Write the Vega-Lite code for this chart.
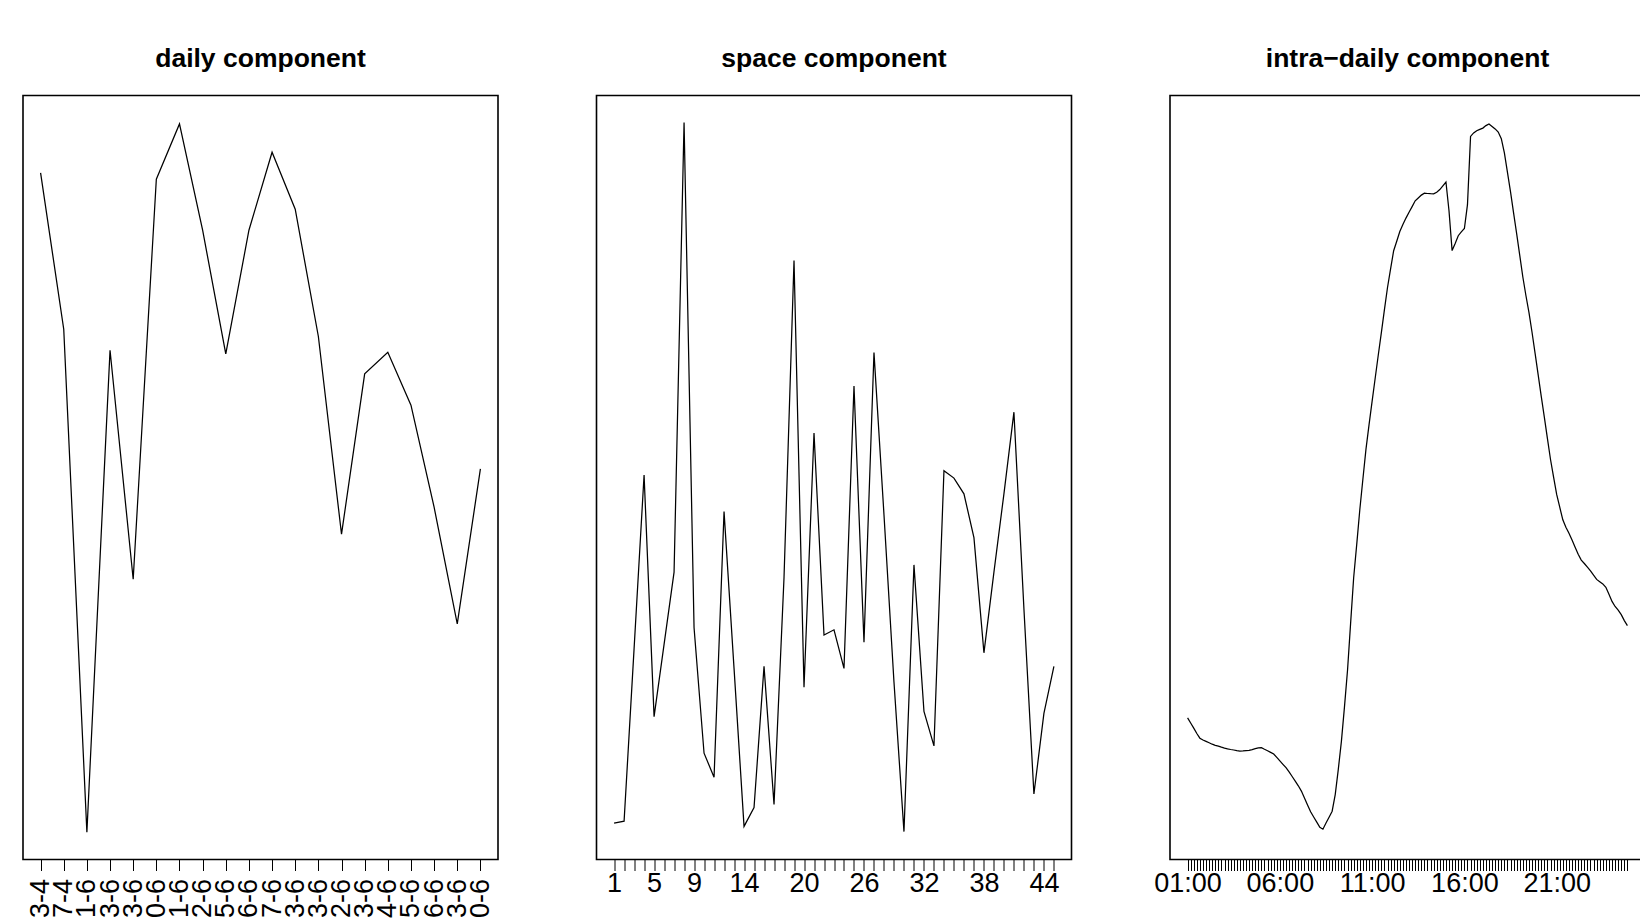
{
  "$schema": "https://vega.github.io/schema/vega-lite/v6.json",
  "background": "white",
  "padding": {"left": 22, "top": 44.5, "right": 0, "bottom": 0},
  "bounds": "flush",
  "spacing": 98.5,
  "config": {
    "view": {"stroke": "black", "strokeWidth": 1.6},
    "font": "Liberation Sans",
    "title": {"fontSize": 26.5, "fontWeight": "bold", "color": "black", "offset": 23, "font": "Liberation Sans"},
    "axis": {"domain": false, "grid": false, "tickColor": "black", "tickSize": 11, "tickWidth": 1, "labelColor": "black", "labelFont": "Liberation Sans", "labelFontSize": 27, "labelPadding": 0, "labelOverlap": false, "labelFlush": false},
    "line": {"color": "black", "strokeWidth": 1.25}
  },
  "datasets": {
    "daily": [
      {"i": 1, "day": "23-4", "v": 686.6},
      {"i": 2, "day": "27-4", "v": 530.3},
      {"i": 3, "day": "01-6", "v": 27.3},
      {"i": 4, "day": "03-6", "v": 509.3},
      {"i": 5, "day": "13-6", "v": 280.3},
      {"i": 6, "day": "20-6", "v": 680.3},
      {"i": 7, "day": "21-6", "v": 735.6},
      {"i": 8, "day": "22-6", "v": 629.3},
      {"i": 9, "day": "25-6", "v": 505.6},
      {"i": 10, "day": "26-6", "v": 629.3},
      {"i": 11, "day": "27-6", "v": 707.3},
      {"i": 12, "day": "03-6", "v": 650.3},
      {"i": 13, "day": "13-6", "v": 523.0},
      {"i": 14, "day": "22-6", "v": 325.3},
      {"i": 15, "day": "23-6", "v": 485.6},
      {"i": 16, "day": "24-6", "v": 507.3},
      {"i": 17, "day": "25-6", "v": 454.3},
      {"i": 18, "day": "26-6", "v": 352.3},
      {"i": 19, "day": "13-6", "v": 235.6},
      {"i": 20, "day": "20-6", "v": 390.6}
    ],
    "space": [
      {"i": 1, "v": 36.3}, {"i": 2, "v": 38.3}, {"i": 3, "v": 210.9}, {"i": 4, "v": 384.5}, {"i": 5, "v": 142.9},
      {"i": 6, "v": 215.1}, {"i": 7, "v": 287.3}, {"i": 8, "v": 737.0}, {"i": 9, "v": 231.8}, {"i": 10, "v": 106.3},
      {"i": 11, "v": 82.3}, {"i": 12, "v": 347.9}, {"i": 13, "v": 191.1}, {"i": 14, "v": 33.1}, {"i": 15, "v": 51.9},
      {"i": 16, "v": 193.1}, {"i": 17, "v": 55.1}, {"i": 18, "v": 282.0}, {"i": 19, "v": 599.0}, {"i": 20, "v": 172.2},
      {"i": 21, "v": 426.4}, {"i": 22, "v": 224.5}, {"i": 23, "v": 229.7}, {"i": 24, "v": 191.1}, {"i": 25, "v": 473.4},
      {"i": 26, "v": 217.2}, {"i": 27, "v": 506.9}, {"i": 28, "v": 344.8}, {"i": 29, "v": 177.5}, {"i": 30, "v": 27.9},
      {"i": 31, "v": 294.6}, {"i": 32, "v": 148.2}, {"i": 33, "v": 113.6}, {"i": 34, "v": 388.7}, {"i": 35, "v": 381.4},
      {"i": 36, "v": 365.7}, {"i": 37, "v": 321.8}, {"i": 38, "v": 206.7}, {"i": 39, "v": 287.3}, {"i": 40, "v": 365.7},
      {"i": 41, "v": 447.3}, {"i": 42, "v": 250.7}, {"i": 43, "v": 65.5}, {"i": 44, "v": 146.1}, {"i": 45, "v": 193.1}
    ],
    "intra": [
      {"i": 1, "t": "01:00", "v": 141.6}, {"i": 2, "t": "01:10", "v": 136.5}, {"i": 3, "t": "01:20", "v": 131.4}, {"i": 4, "t": "01:30", "v": 126.0}, {"i": 5, "t": "01:40", "v": 121.3}, {"i": 6, "t": "01:50", "v": 119.5},
      {"i": 7, "t": "02:00", "v": 118.1}, {"i": 8, "t": "02:10", "v": 116.7}, {"i": 9, "t": "02:20", "v": 115.3}, {"i": 10, "t": "02:30", "v": 114.2}, {"i": 11, "t": "02:40", "v": 113.3}, {"i": 12, "t": "02:50", "v": 112.3},
      {"i": 13, "t": "03:00", "v": 111.4}, {"i": 14, "t": "03:10", "v": 110.6}, {"i": 15, "t": "03:20", "v": 110.0}, {"i": 16, "t": "03:30", "v": 109.5}, {"i": 17, "t": "03:40", "v": 108.9}, {"i": 18, "t": "03:50", "v": 108.4},
      {"i": 19, "t": "04:00", "v": 108.6}, {"i": 20, "t": "04:10", "v": 108.9}, {"i": 21, "t": "04:20", "v": 109.2}, {"i": 22, "t": "04:30", "v": 109.9}, {"i": 23, "t": "04:40", "v": 110.8}, {"i": 24, "t": "04:50", "v": 111.7},
      {"i": 25, "t": "05:00", "v": 111.8}, {"i": 26, "t": "05:10", "v": 110.2}, {"i": 27, "t": "05:20", "v": 108.7}, {"i": 28, "t": "05:30", "v": 107.1}, {"i": 29, "t": "05:40", "v": 105.5}, {"i": 30, "t": "05:50", "v": 102.1},
      {"i": 31, "t": "06:00", "v": 98.7}, {"i": 32, "t": "06:10", "v": 95.2}, {"i": 33, "t": "06:20", "v": 91.8}, {"i": 34, "t": "06:30", "v": 87.7}, {"i": 35, "t": "06:40", "v": 83.0}, {"i": 36, "t": "06:50", "v": 78.4},
      {"i": 37, "t": "07:00", "v": 73.7}, {"i": 38, "t": "07:10", "v": 68.4}, {"i": 39, "t": "07:20", "v": 61.5}, {"i": 40, "t": "07:30", "v": 54.5}, {"i": 41, "t": "07:40", "v": 47.8}, {"i": 42, "t": "07:50", "v": 42.5},
      {"i": 43, "t": "08:00", "v": 37.4}, {"i": 44, "t": "08:10", "v": 32.2}, {"i": 45, "t": "08:20", "v": 30.3}, {"i": 46, "t": "08:30", "v": 36.5}, {"i": 47, "t": "08:40", "v": 42.3}, {"i": 48, "t": "08:50", "v": 48.3},
      {"i": 49, "t": "09:00", "v": 64.9}, {"i": 50, "t": "09:10", "v": 90.2}, {"i": 51, "t": "09:20", "v": 117.9}, {"i": 52, "t": "09:30", "v": 152.4}, {"i": 53, "t": "09:40", "v": 189.3}, {"i": 54, "t": "09:50", "v": 236.1},
      {"i": 55, "t": "10:00", "v": 282.0}, {"i": 56, "t": "10:10", "v": 315.4}, {"i": 57, "t": "10:20", "v": 350.0}, {"i": 58, "t": "10:30", "v": 380.5}, {"i": 59, "t": "10:40", "v": 410.4}, {"i": 60, "t": "10:50", "v": 434.9},
      {"i": 61, "t": "11:00", "v": 458.3}, {"i": 62, "t": "11:10", "v": 481.5}, {"i": 63, "t": "11:20", "v": 504.5}, {"i": 64, "t": "11:30", "v": 526.8}, {"i": 65, "t": "11:40", "v": 549.8}, {"i": 66, "t": "11:50", "v": 572.0},
      {"i": 67, "t": "12:00", "v": 590.7}, {"i": 68, "t": "12:10", "v": 608.8}, {"i": 69, "t": "12:20", "v": 618.3}, {"i": 70, "t": "12:30", "v": 628.0}, {"i": 71, "t": "12:40", "v": 634.9}, {"i": 72, "t": "12:50", "v": 641.4},
      {"i": 73, "t": "13:00", "v": 647.2}, {"i": 74, "t": "13:10", "v": 652.9}, {"i": 75, "t": "13:20", "v": 658.7}, {"i": 76, "t": "13:30", "v": 661.5}, {"i": 77, "t": "13:40", "v": 664.4}, {"i": 78, "t": "13:50", "v": 666.3},
      {"i": 79, "t": "14:00", "v": 666.0}, {"i": 80, "t": "14:10", "v": 665.8}, {"i": 81, "t": "14:20", "v": 665.7}, {"i": 82, "t": "14:30", "v": 667.3}, {"i": 83, "t": "14:40", "v": 669.9}, {"i": 84, "t": "14:50", "v": 673.7},
      {"i": 85, "t": "15:00", "v": 677.5}, {"i": 86, "t": "15:10", "v": 648.5}, {"i": 87, "t": "15:20", "v": 608.9}, {"i": 88, "t": "15:30", "v": 616.1}, {"i": 89, "t": "15:40", "v": 623.8}, {"i": 90, "t": "15:50", "v": 627.6},
      {"i": 91, "t": "16:00", "v": 631.0}, {"i": 92, "t": "16:10", "v": 654.8}, {"i": 93, "t": "16:20", "v": 723.1}, {"i": 94, "t": "16:30", "v": 726.6}, {"i": 95, "t": "16:40", "v": 728.8}, {"i": 96, "t": "16:50", "v": 730.1},
      {"i": 97, "t": "17:00", "v": 731.4}, {"i": 98, "t": "17:10", "v": 733.9}, {"i": 99, "t": "17:20", "v": 735.6}, {"i": 100, "t": "17:30", "v": 733.1}, {"i": 101, "t": "17:40", "v": 730.6}, {"i": 102, "t": "17:50", "v": 727.5},
      {"i": 103, "t": "18:00", "v": 720.8}, {"i": 104, "t": "18:10", "v": 706.7}, {"i": 105, "t": "18:20", "v": 687.2}, {"i": 106, "t": "18:30", "v": 667.6}, {"i": 107, "t": "18:40", "v": 646.3}, {"i": 108, "t": "18:50", "v": 625.7},
      {"i": 109, "t": "19:00", "v": 604.1}, {"i": 110, "t": "19:10", "v": 582.5}, {"i": 111, "t": "19:20", "v": 564.0}, {"i": 112, "t": "19:30", "v": 546.9}, {"i": 113, "t": "19:40", "v": 527.0}, {"i": 114, "t": "19:50", "v": 505.8},
      {"i": 115, "t": "20:00", "v": 484.4}, {"i": 116, "t": "20:10", "v": 462.9}, {"i": 117, "t": "20:20", "v": 442.1}, {"i": 118, "t": "20:30", "v": 420.8}, {"i": 119, "t": "20:40", "v": 400.0}, {"i": 120, "t": "20:50", "v": 382.3},
      {"i": 121, "t": "21:00", "v": 365.1}, {"i": 122, "t": "21:10", "v": 352.3}, {"i": 123, "t": "21:20", "v": 339.7}, {"i": 124, "t": "21:30", "v": 332.3}, {"i": 125, "t": "21:40", "v": 326.2}, {"i": 126, "t": "21:50", "v": 319.4},
      {"i": 127, "t": "22:00", "v": 312.3}, {"i": 128, "t": "22:10", "v": 305.2}, {"i": 129, "t": "22:20", "v": 299.4}, {"i": 130, "t": "22:30", "v": 296.0}, {"i": 131, "t": "22:40", "v": 292.4}, {"i": 132, "t": "22:50", "v": 288.7},
      {"i": 133, "t": "23:00", "v": 284.3}, {"i": 134, "t": "23:10", "v": 280.1}, {"i": 135, "t": "23:20", "v": 277.8}, {"i": 136, "t": "23:30", "v": 275.6}, {"i": 137, "t": "23:40", "v": 272.2}, {"i": 138, "t": "23:50", "v": 265.3},
      {"i": 139, "t": "00:00", "v": 258.1}, {"i": 140, "t": "00:10", "v": 253.0}, {"i": 141, "t": "00:20", "v": 249.4}, {"i": 142, "t": "00:30", "v": 244.9}, {"i": 143, "t": "00:40", "v": 238.9}, {"i": 144, "t": "00:50", "v": 233.9}
    ]
  },
  "hconcat": [
    {
      "title": "daily component",
      "width": 475,
      "height": 764,
      "data": {"name": "daily"},
      "mark": {"type": "line"},
      "encoding": {
        "x": {"field": "i", "type": "quantitative", "title": null,
          "scale": {"domain": [0.24, 20.76], "nice": false, "zero": false},
          "axis": {"values": [1,2,3,4,5,6,7,8,9,10,11,12,13,14,15,16,17,18,19,20], "labelAngle": -90, "labelAlign": "right", "labelBaseline": "middle", "labelFontSize": 27, "labelPadding": 8,
            "labelExpr": "['23-4','27-4','01-6','03-6','13-6','20-6','21-6','22-6','25-6','26-6','27-6','03-6','13-6','22-6','23-6','24-6','25-6','26-6','13-6','20-6'][datum.value - 1]"}},
        "y": {"field": "v", "type": "quantitative", "title": null, "scale": {"domain": [0, 764], "nice": false, "zero": false}, "axis": null}
      }
    },
    {
      "title": "space component",
      "width": 475,
      "height": 764,
      "data": {"name": "space"},
      "mark": {"type": "line"},
      "encoding": {
        "x": {"field": "i", "type": "quantitative", "title": null,
          "scale": {"domain": [-0.76, 46.76], "nice": false, "zero": false},
          "axis": {"values": [1,2,3,4,5,6,7,8,9,10,11,12,13,14,15,16,17,18,19,20,21,22,23,24,25,26,27,28,29,30,31,32,33,34,35,36,37,38,39,40,41,42,43,44,45],
            "labelExpr": "indexof([1,5,9,14,20,26,32,38,44], datum.value) >= 0 ? datum.label : ''"}},
        "y": {"field": "v", "type": "quantitative", "title": null, "scale": {"domain": [0, 764], "nice": false, "zero": false}, "axis": null}
      }
    },
    {
      "title": "intra−daily component",
      "width": 475,
      "height": 764,
      "data": {"name": "intra"},
      "mark": {"type": "line"},
      "encoding": {
        "x": {"field": "i", "type": "quantitative", "title": null,
          "scale": {"domain": [-4.72, 149.72], "nice": false, "zero": false},
          "axis": {"values": [1,2,3,4,5,6,7,8,9,10,11,12,13,14,15,16,17,18,19,20,21,22,23,24,25,26,27,28,29,30,31,32,33,34,35,36,37,38,39,40,41,42,43,44,45,46,47,48,49,50,51,52,53,54,55,56,57,58,59,60,61,62,63,64,65,66,67,68,69,70,71,72,73,74,75,76,77,78,79,80,81,82,83,84,85,86,87,88,89,90,91,92,93,94,95,96,97,98,99,100,101,102,103,104,105,106,107,108,109,110,111,112,113,114,115,116,117,118,119,120,121,122,123,124,125,126,127,128,129,130,131,132,133,134,135,136,137,138,139,140,141,142,143,144],
            "labelExpr": "datum.value == 1 ? '01:00' : datum.value == 31 ? '06:00' : datum.value == 61 ? '11:00' : datum.value == 91 ? '16:00' : datum.value == 121 ? '21:00' : ''"}},
        "y": {"field": "v", "type": "quantitative", "title": null, "scale": {"domain": [0, 764], "nice": false, "zero": false}, "axis": null}
      }
    }
  ]
}
